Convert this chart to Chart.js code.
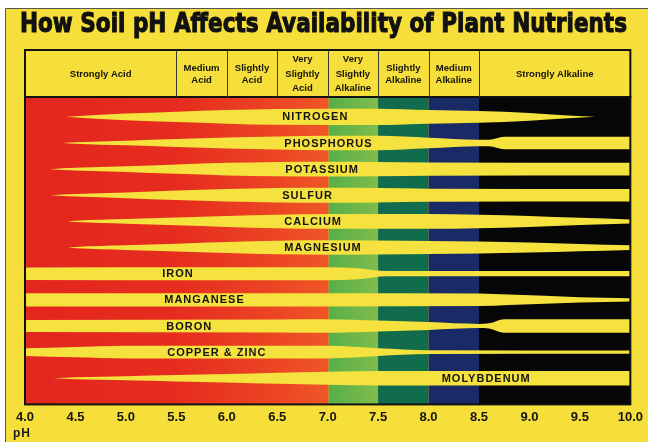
<!DOCTYPE html>
<html>
<head>
<meta charset="utf-8">
<title>How Soil pH Affects Availability of Plant Nutrients</title>
<script src="https://cdn.jsdelivr.net/npm/chart.js@4.4.1/dist/chart.umd.min.js"></script>
<style>
  html, body { margin: 0; padding: 0; background: #fff; }
  #wrap { width: 648px; height: 442px; }
</style>
</head>
<body>
<div id="wrap"><canvas id="chart" width="648" height="442"></canvas></div>
<script>
const TITLE = "How Soil pH Affects Availability of Plant Nutrients";

// x axis
const phTicks = [4.0, 4.5, 5.0, 5.5, 6.0, 6.5, 7.0, 7.5, 8.0, 8.5, 9.0, 9.5, 10.0];

// header zones
const zoneEdges = [4.0, 5.5, 6.0, 6.5, 7.0, 7.5, 8.0, 8.5, 10.0];
const zoneNames = [
    ["Strongly Acid"],
    ["Medium", "Acid"],
    ["Slightly", "Acid"],
    ["Very", "Slightly", "Acid"],
    ["Very", "Slightly", "Alkaline"],
    ["Slightly", "Alkaline"],
    ["Medium", "Alkaline"],
    ["Strongly Alkaline"]
];

// nutrients, top to bottom, and where the name sits (pH)
const nutrients = ["NITROGEN", "PHOSPHORUS", "POTASSIUM", "SULFUR", "CALCIUM", "MAGNESIUM",
    "IRON", "MANGANESE", "BORON", "COPPER & ZINC", "MOLYBDENUM"];
const labelPh = [6.55, 6.57, 6.58, 6.55, 6.57, 6.57, 5.36, 5.38, 5.4, 5.41, 8.13];

// availability bands: [pH, band thickness as share of a row]
const nitrogen   = [[4.4, 0], [4.5, 0.05], [5.0, 0.25], [5.5, 0.4], [6.0, 0.52], [6.5, 0.6], [7.5, 0.62], [8.0, 0.52], [8.5, 0.45], [9.0, 0.3], [9.3, 0.15], [9.65, 0]];
const phosphorus = [[4.38, 0], [4.5, 0.06], [5.0, 0.18], [5.5, 0.3], [6.0, 0.42], [6.5, 0.5], [7.0, 0.55], [7.5, 0.55], [8.0, 0.4], [8.5, 0.24], [8.6, 0.24], [8.75, 0.47], [10.0, 0.47]];
const potassium  = [[4.25, 0], [4.5, 0.1], [5.0, 0.22], [5.5, 0.36], [6.0, 0.48], [6.5, 0.55], [7.0, 0.57], [7.5, 0.55], [8.0, 0.5], [10.0, 0.48]];
const sulfur     = [[4.25, 0], [4.5, 0.1], [5.0, 0.22], [5.5, 0.36], [6.0, 0.48], [6.5, 0.55], [7.0, 0.57], [7.5, 0.55], [8.0, 0.5], [10.0, 0.48]];
const calcium    = [[4.42, 0], [4.5, 0.05], [5.0, 0.18], [5.5, 0.3], [6.0, 0.42], [6.5, 0.52], [7.0, 0.57], [8.0, 0.57], [8.5, 0.52], [9.0, 0.42], [9.5, 0.28], [10.0, 0.15]];
const magnesium  = [[4.42, 0], [4.5, 0.05], [5.0, 0.18], [5.5, 0.3], [6.0, 0.42], [6.5, 0.52], [7.0, 0.55], [8.0, 0.5], [8.5, 0.46], [9.0, 0.38], [9.5, 0.28], [10.0, 0.18]];
const iron       = [[4.0, 0.48], [6.0, 0.5], [7.0, 0.5], [7.3, 0.42], [7.6, 0.2], [10.0, 0.2]];
const manganese  = [[4.0, 0.5], [7.0, 0.5], [8.5, 0.48], [8.8, 0.4], [9.5, 0.2], [10.0, 0.12]];
const boron      = [[4.0, 0.46], [6.5, 0.5], [7.0, 0.52], [7.5, 0.42], [8.0, 0.3], [8.5, 0.16], [8.6, 0.2], [8.75, 0.52], [10.0, 0.52]];
const copperZinc = [[4.0, 0.3], [4.5, 0.4], [5.0, 0.48], [7.0, 0.48], [7.5, 0.3], [8.0, 0.15], [10.0, 0.12]];
const molybdenum = [[4.28, 0], [4.5, 0.08], [5.0, 0.15], [5.5, 0.24], [6.0, 0.32], [6.5, 0.42], [7.0, 0.5], [7.5, 0.55], [10.0, 0.55]];

const bands = [nitrogen, phosphorus, potassium, sulfur, calcium, magnesium,
    iron, manganese, boron, copperZinc, molybdenum];

const YELLOW = "#F6DF3A";
const BAND = "#F5E23E";
const FONT = "'Liberation Sans', Arial, sans-serif";

// each band = upper edge + lower edge filled to the one above
const datasets = [];
bands.forEach((band, i) => {
    const common = {
        pointRadius: 0,
        borderWidth: 0,
        borderColor: "rgba(0,0,0,0)",
        cubicInterpolationMode: "monotone"
    };
    datasets.push({
        ...common,
        label: nutrients[i],
        data: band.map(([ph, w]) => ({ x: ph, y: i - w / 2 })),
        fill: false
    });
    datasets.push({
        ...common,
        label: nutrients[i] + " (lower)",
        data: band.map(([ph, w]) => ({ x: ph, y: i + w / 2 })),
        fill: "-1",
        backgroundColor: BAND
    });
});

function squeeze(ctx, text, x, y, width, stroke){
    const w = ctx.measureText(text).width;
    ctx.save();
    ctx.translate(x, y);
    ctx.scale(width / w, 1);
    ctx.fillText(text, 0, 0);
    if(stroke) ctx.strokeText(text, 0, 0);
    ctx.restore();
}

const soilPlugin = {
    id: "soil",
    beforeDraw(chart){
        const ctx = chart.ctx;
        const { left, right, top, bottom } = chart.chartArea;
        const x = chart.scales.x;

        // page
        ctx.save();
        ctx.fillStyle = "#fff";
        ctx.fillRect(0, 0, chart.width, chart.height);
        ctx.fillStyle = YELLOW;
        ctx.fillRect(6, 8, chart.width - 6, chart.height - 8);
        ctx.strokeStyle = "#555";
        ctx.lineWidth = 1;
        ctx.beginPath();
        ctx.moveTo(5.5, chart.height);
        ctx.lineTo(5.5, 8.5);
        ctx.lineTo(chart.width, 8.5);
        ctx.stroke();

        // acid side: red to orange
        const x4 = x.getPixelForValue(4.0), x7 = x.getPixelForValue(7.0);
        const red = ctx.createLinearGradient(x4, 0, x7, 0);
        red.addColorStop(0, "#E3261E");
        red.addColorStop(0.5, "#E62C1F");
        red.addColorStop(0.8, "#EB4323");
        red.addColorStop(1, "#EF5627");
        ctx.fillStyle = red;
        ctx.fillRect(x4, top, x7 - x4 + 1, bottom - top);

        const x75 = x.getPixelForValue(7.5);
        const green = ctx.createLinearGradient(x7, 0, x75, 0);
        green.addColorStop(0, "#56AE48");
        green.addColorStop(1, "#80BC4B");
        ctx.fillStyle = green;
        ctx.fillRect(x7 + 1, top, x75 - x7, bottom - top);

        const x8 = x.getPixelForValue(8.0), x85 = x.getPixelForValue(8.5);
        ctx.fillStyle = "#116C4E";
        ctx.fillRect(x75, top, x8 - x75, bottom - top);
        ctx.fillStyle = "#1A2A66";
        ctx.fillRect(x8, top, x85 - x8, bottom - top);
        ctx.fillStyle = "#060606";
        ctx.fillRect(x85, top, right - x85, bottom - top);
        ctx.restore();
    },
    afterDatasetsDraw(chart){
        const ctx = chart.ctx;
        const x = chart.scales.x, y = chart.scales.y;
        ctx.save();
        ctx.fillStyle = "#141414";
        ctx.font = "bold 11px " + FONT;
        ctx.textBaseline = "middle";
        ctx.textAlign = "left";
        ctx.letterSpacing = "1px";
        nutrients.forEach((name, i) => {
            ctx.fillText(name, x.getPixelForValue(labelPh[i]), y.getPixelForValue(i) + 0.5);
        });
        ctx.restore();
    },
    afterDraw(chart){
        const ctx = chart.ctx;
        const { left, right, top, bottom } = chart.chartArea;
        const x = chart.scales.x;
        const headTop = 50;

        ctx.save();
        // plot frame
        ctx.strokeStyle = "#111";
        ctx.lineWidth = 2;
        ctx.strokeRect(left, top, right - left, bottom - top);

        // header box
        ctx.strokeRect(left, headTop, right - left, top - headTop);
        ctx.lineWidth = 1;
        ctx.strokeStyle = "#3a3a2a";
        zoneEdges.slice(1, -1).forEach(v => {
            const px = Math.round(x.getPixelForValue(v)) + 0.5;
            ctx.beginPath();
            ctx.moveTo(px, headTop);
            ctx.lineTo(px, top);
            ctx.stroke();
        });

        ctx.fillStyle = "#14140c";
        ctx.font = "bold 9.5px " + FONT;
        ctx.textAlign = "center";
        ctx.textBaseline = "middle";
        zoneNames.forEach((lines, i) => {
            const cx = (x.getPixelForValue(zoneEdges[i]) + x.getPixelForValue(zoneEdges[i + 1])) / 2;
            const lh = lines.length === 3 ? 14.5 : 12;
            const cy = (headTop + top) / 2 - (lines.length - 1) * lh / 2 + 0.5;
            lines.forEach((t, k) => ctx.fillText(t, cx, cy + k * lh));
        });

        // title
        ctx.fillStyle = "#111";
        ctx.strokeStyle = "#111";
        ctx.lineWidth = 1.1;
        ctx.font = "bold 27px 'DejaVu Sans', sans-serif";
        ctx.textAlign = "left";
        ctx.textBaseline = "alphabetic";
        squeeze(ctx, TITLE, 20, 32, 607, true);

        // pH under the axis
        ctx.font = "bold 12px " + FONT;
        ctx.letterSpacing = "1px";
        ctx.textBaseline = "middle";
        ctx.fillStyle = "#1a1a1a";
        ctx.fillText("pH", 13, 434);
        ctx.restore();
    }
};

new Chart(document.getElementById("chart"), {
    type: "line",
    data: { datasets },
    plugins: [soilPlugin],
    options: {
        responsive: false,
        animation: false,
        events: [],
        layout: { padding: { top: 97, left: 25, right: 16, bottom: 12 } },
        plugins: {
            legend: { display: false },
            tooltip: { enabled: false },
            filler: { propagate: false }
        },
        scales: {
            x: {
                type: "linear",
                min: 4,
                max: 10,
                afterBuildTicks: (scale) => { scale.ticks = phTicks.map(v => ({ value: v })); },
                grid: { display: false, drawTicks: false, tickLength: 0 },
                border: { display: false },
                ticks: {
                    autoSkip: false,
                    maxRotation: 0,
                    padding: 5,
                    color: "#151510",
                    font: { family: FONT, size: 13, weight: "bold" },
                    callback: (v) => Number(v).toFixed(1)
                }
            },
            y: {
                type: "linear",
                reverse: true,
                min: -0.76,
                max: 11,
                display: false
            }
        }
    }
});
</script>
</body>
</html>
